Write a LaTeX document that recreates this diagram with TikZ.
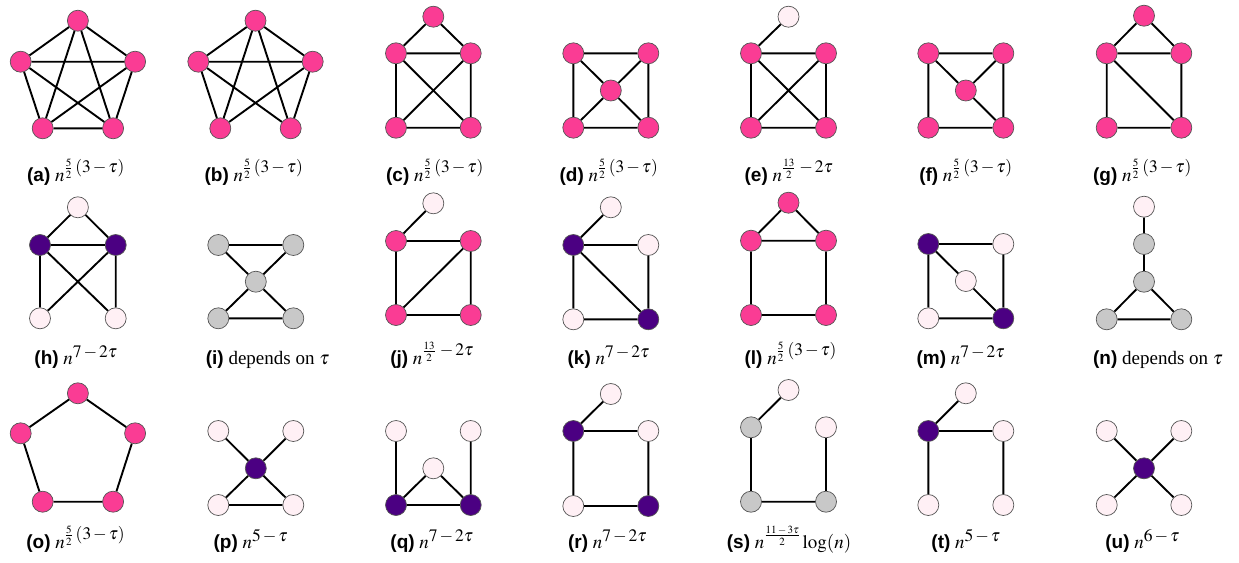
\documentclass[tikz,border=0pt]{standalone}
\usepackage{mathptmx}
\usepackage{fontspec}
\setmainfont{Liberation Serif}
\setsansfont{Liberation Sans}
\DeclareMathSizes{19}{19}{17.5}{11}
\definecolor{pk}{RGB}{250,60,148}
\definecolor{pl}{RGB}{255,240,245}
\definecolor{pu}{RGB}{75,0,130}
\definecolor{gy}{RGB}{200,200,200}
\definecolor{outl}{RGB}{85,85,85}
\tikzset{
  vtx/.style={circle, draw=outl, line width=0.7pt, minimum size=21pt, inner sep=0pt},
  P/.style={vtx, fill=pk},
  L/.style={vtx, fill=pl},
  U/.style={vtx, fill=pu},
  G/.style={vtx, fill=gy},
  ln/.style={line width=1.9pt, black},
  lab/.style={anchor=base, inner sep=0pt, font=\fontsize{19}{22}\selectfont}
}
\newcommand{\lb}[1]{{\sffamily\bfseries (#1)}\ }
\newcommand{\mn}{\mskip2mu{-}\mskip2mu}
\newcommand{\ef}{$n^{\frac{5}{2}\mskip3mu(3\mn\tau)}$}
\newcommand{\eth}{$n^{\frac{13}{2}\mskip2mu\mn 2\tau}$}
\newcommand{\es}{$n^{7\mn 2\tau}$}
\begin{document}
\begin{tikzpicture}[x=1pt,y=-1pt]
\useasboundingbox (0,0) rectangle (1239,562);
% ---------- row 1 ----------
% (a)
\node[P] (a1) at (77.9,20.7) {};
\node[P] (a2) at (20.7,61.7) {};
\node[P] (a3) at (135.1,61.7) {};
\node[P] (a4) at (42.7,128.3) {};
\node[P] (a5) at (113.1,128.3) {};
\draw[ln] (a1)--(a2) (a1)--(a3) (a1)--(a4) (a1)--(a5) (a2)--(a3) (a2)--(a4) (a2)--(a5) (a3)--(a4) (a3)--(a5) (a4)--(a5);
\node[lab] (la) at (76,181) {\lb{a}\ef};
% (b)
\node[P] (b1) at (255.5,20.7) {};
\node[P] (b2) at (198.3,61.7) {};
\node[P] (b3) at (312.7,61.7) {};
\node[P] (b4) at (220.3,128.3) {};
\node[P] (b5) at (290.7,128.3) {};
\draw[ln] (b1)--(b2) (b1)--(b3) (b1)--(b4) (b1)--(b5) (b2)--(b3) (b2)--(b4) (b2)--(b5) (b3)--(b4) (b3)--(b5);
\node[lab] (lb) at (254,181) {\lb{b}\ef};
% (c)
\node[P] (c1) at (433.3,16.7) {};
\node[P] (c2) at (396,53.3) {};
\node[P] (c3) at (470.7,53.3) {};
\node[P] (c4) at (396,127.7) {};
\node[P] (c5) at (470.7,127.7) {};
\draw[ln] (c1)--(c2) (c1)--(c3) (c2)--(c3) (c2)--(c4) (c3)--(c5) (c4)--(c5) (c2)--(c5) (c3)--(c4);
\node[lab] (lc) at (435,181) {\lb{c}\ef};
% (d)
\node[P] (d1) at (573.3,53.3) {};
\node[P] (d2) at (648.3,53.3) {};
\node[P] (d3) at (610.8,90.5) {};
\node[P] (d4) at (573.3,127.7) {};
\node[P] (d5) at (648.3,127.7) {};
\draw[ln] (d1)--(d2) (d2)--(d5) (d5)--(d4) (d4)--(d1) (d1)--(d3) (d2)--(d3) (d4)--(d3) (d5)--(d3);
\node[lab] (ld) at (609,181) {\lb{d}\ef};
% (e)
\node[L] (e1) at (788.5,16.7) {};
\node[P] (e2) at (751,53.3) {};
\node[P] (e3) at (826,53.3) {};
\node[P] (e4) at (751,127.7) {};
\node[P] (e5) at (826,127.7) {};
\draw[ln] (e1)--(e2) (e2)--(e3) (e3)--(e5) (e5)--(e4) (e4)--(e2) (e2)--(e5) (e3)--(e4);
\node[lab] (le) at (789,181) {\lb{e}\eth};
% (f)
\node[P] (f1) at (928.3,53.3) {};
\node[P] (f2) at (1003.3,53.3) {};
\node[P] (f3) at (965.8,90.5) {};
\node[P] (f4) at (928.3,127.7) {};
\node[P] (f5) at (1003.3,127.7) {};
\draw[ln] (f1)--(f2) (f2)--(f5) (f5)--(f4) (f4)--(f1) (f1)--(f3) (f2)--(f3) (f5)--(f3);
\node[lab] (lf) at (966,181) {\lb{f}\ef};
% (g)
\node[P] (g1) at (1144,15.7) {};
\node[P] (g2) at (1106.7,53.3) {};
\node[P] (g3) at (1181.3,53.3) {};
\node[P] (g4) at (1106.7,127.7) {};
\node[P] (g5) at (1181.3,127.7) {};
\draw[ln] (g1)--(g2) (g1)--(g3) (g2)--(g3) (g2)--(g4) (g3)--(g5) (g4)--(g5) (g2)--(g5);
\node[lab] (lg) at (1142.5,181) {\lb{g}\ef};
% ---------- row 2 ----------
% (h)
\node[L] (h1) at (77.9,207.3) {};
\node[U] (h2) at (40,245) {};
\node[U] (h3) at (115.7,245) {};
\node[L] (h4) at (40,318.3) {};
\node[L] (h5) at (115.7,318.3) {};
\draw[ln] (h1)--(h2) (h1)--(h3) (h2)--(h3) (h2)--(h4) (h3)--(h5) (h2)--(h5) (h3)--(h4);
\node[lab] (lh) at (76,364) {\lb{h}\es};
% (i)
\node[G] (i1) at (218.3,245) {};
\node[G] (i2) at (293.3,245) {};
\node[G] (i3) at (255.8,281.7) {};
\node[G] (i4) at (218.3,318.3) {};
\node[G] (i5) at (293.3,318.3) {};
\draw[ln] (i1)--(i2) (i1)--(i3) (i2)--(i3) (i4)--(i3) (i5)--(i3) (i4)--(i5);
\node[lab] (li) at (267.5,364) {\lb{i}depends on $\tau$};
% (j)
\node[L] (j1) at (433.3,203.3) {};
\node[P] (j2) at (396,241) {};
\node[P] (j3) at (470.7,241) {};
\node[P] (j4) at (396,315) {};
\node[P] (j5) at (470.7,315) {};
\draw[ln] (j1)--(j2) (j2)--(j3) (j2)--(j4) (j3)--(j5) (j4)--(j5) (j3)--(j4);
\node[lab] (lj) at (432,364) {\lb{j}\eth};
% (k)
\node[L] (k1) at (610.8,207.3) {};
\node[U] (k2) at (573.3,245) {};
\node[L] (k3) at (648.3,245) {};
\node[L] (k4) at (573.3,319.3) {};
\node[U] (k5) at (648.3,319.3) {};
\draw[ln] (k1)--(k2) (k2)--(k3) (k2)--(k4) (k3)--(k5) (k4)--(k5) (k2)--(k5);
\node[lab] (lk) at (608.7,364) {\lb{k}\es};
% (l)
\node[P] (l1) at (788.5,202.7) {};
\node[P] (l2) at (751,240.7) {};
\node[P] (l3) at (826,240.7) {};
\node[P] (l4) at (751,315) {};
\node[P] (l5) at (826,315) {};
\draw[ln] (l1)--(l2) (l1)--(l3) (l2)--(l3) (l2)--(l4) (l3)--(l5) (l4)--(l5);
\node[lab] (ll) at (790.8,364) {\lb{l}\ef};
% (m)
\node[U] (m1) at (928.3,244) {};
\node[L] (m2) at (1003.3,244) {};
\node[L] (m3) at (965.8,281) {};
\node[L] (m4) at (928.3,318.3) {};
\node[U] (m5) at (1003.3,318.3) {};
\draw[ln] (m1)--(m2) (m2)--(m5) (m5)--(m4) (m4)--(m1) (m1)--(m3) (m3)--(m5);
\node[lab] (lm) at (960.8,364) {\lb{m}\es};
% (n)
\node[L] (n1) at (1144,206.7) {};
\node[G] (n2) at (1144,244) {};
\node[G] (n3) at (1144,281.7) {};
\node[G] (n4) at (1106.7,319.3) {};
\node[G] (n5) at (1181.3,319.3) {};
\draw[ln] (n1)--(n2) (n2)--(n3) (n3)--(n4) (n3)--(n5) (n4)--(n5);
\node[lab] (ln) at (1158,364) {\lb{n}depends on $\tau$};
% ---------- row 3 ----------
% (o)
\node[P] (o1) at (77.9,393.3) {};
\node[P] (o2) at (20.7,433.3) {};
\node[P] (o3) at (135.1,433.3) {};
\node[P] (o4) at (42.7,501.7) {};
\node[P] (o5) at (113.1,501.7) {};
\draw[ln] (o1)--(o3) (o3)--(o5) (o5)--(o4) (o4)--(o2) (o2)--(o1);
\node[lab] (lo) at (75.8,548) {\lb{o}\ef};
% (p)
\node[L] (p1) at (218.3,431) {};
\node[L] (p2) at (293.3,431) {};
\node[U] (p3) at (255.8,468.3) {};
\node[L] (p4) at (218.3,505) {};
\node[L] (p5) at (293.3,505) {};
\draw[ln] (p3)--(p1) (p3)--(p2) (p3)--(p4) (p3)--(p5) (p4)--(p5);
\node[lab] (lp) at (250.8,548) {\lb{p}$n^{5\mn\tau}$};
% (q)
\node[L] (q1) at (396,431) {};
\node[L] (q2) at (470.7,431) {};
\node[L] (q3) at (433.3,468.3) {};
\node[U] (q4) at (396,505) {};
\node[U] (q5) at (470.7,505) {};
\draw[ln] (q1)--(q4) (q2)--(q5) (q4)--(q3) (q3)--(q5) (q4)--(q5);
\node[lab] (lq) at (432,548) {\lb{q}\es};
% (r)
\node[L] (r1) at (610.8,394) {};
\node[U] (r2) at (573.3,431) {};
\node[L] (r3) at (648.3,431) {};
\node[L] (r4) at (573.3,506) {};
\node[U] (r5) at (648.3,506) {};
\draw[ln] (r1)--(r2) (r2)--(r3) (r3)--(r5) (r5)--(r4) (r4)--(r2);
\node[lab] (lr) at (607.5,548) {\lb{r}\es};
% (s)
\node[L] (s1) at (788.5,390) {};
\node[G] (s2) at (751,427.3) {};
\node[L] (s3) at (826,427.3) {};
\node[G] (s4) at (751,501.7) {};
\node[G] (s5) at (826,501.7) {};
\draw[ln] (s1)--(s2) (s2)--(s4) (s4)--(s5) (s5)--(s3);
\node[lab] (ls) at (789,548) {\lb{s}$n^{\frac{11\mn 3\tau}{2}}\log(n)$};
% (t)
\node[L] (t1) at (965.8,393.3) {};
\node[U] (t2) at (928.3,431) {};
\node[L] (t3) at (1003.3,431) {};
\node[L] (t4) at (928.3,505) {};
\node[L] (t5) at (1003.3,505) {};
\draw[ln] (t1)--(t2) (t2)--(t3) (t2)--(t4) (t3)--(t5);
\node[lab] (lt) at (966,548) {\lb{t}$n^{5\mn\tau}$};
% (u)
\node[L] (u1) at (1106.7,431) {};
\node[L] (u2) at (1181.3,431) {};
\node[U] (u3) at (1144,468.3) {};
\node[L] (u4) at (1106.7,505) {};
\node[L] (u5) at (1181.3,505) {};
\draw[ln] (u3)--(u1) (u3)--(u2) (u3)--(u4) (u3)--(u5);
\node[lab] (lu) at (1142.5,548) {\lb{u}$n^{6\mn\tau}$};
\end{tikzpicture}
\end{document}
